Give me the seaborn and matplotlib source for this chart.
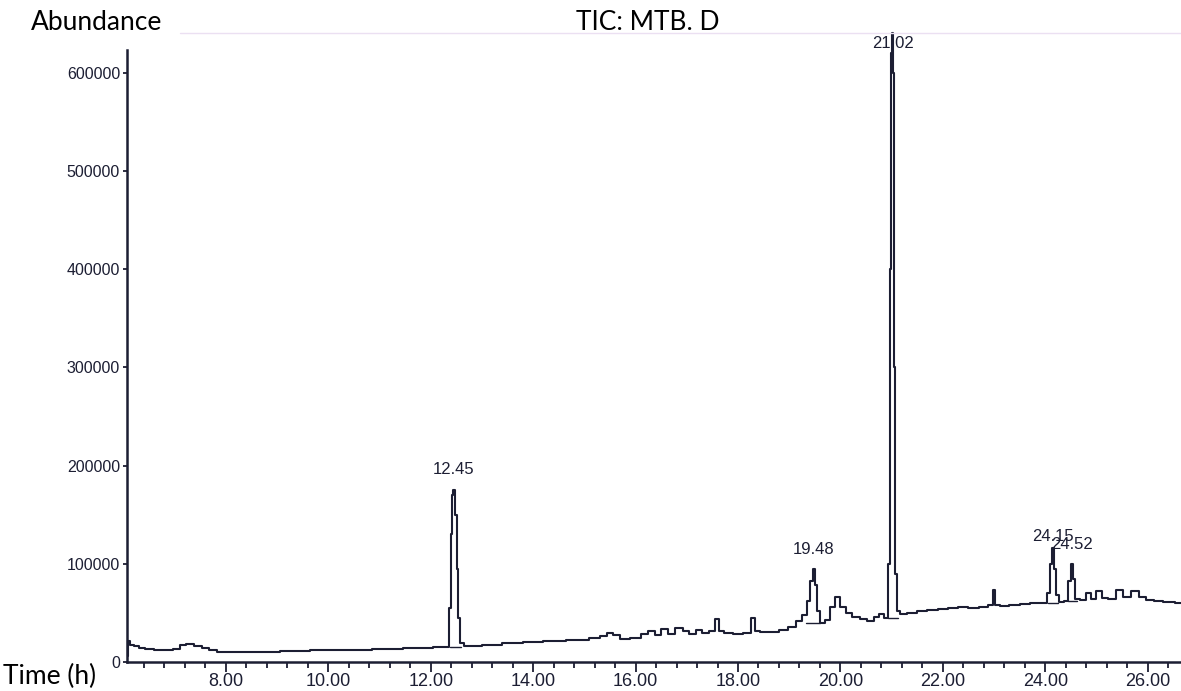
import matplotlib
matplotlib.use("Agg")
import matplotlib.pyplot as plt
from matplotlib.ticker import MultipleLocator, FixedLocator, FuncFormatter
from matplotlib.lines import Line2D
import seaborn as sns
import pandas as pd

# ---------------- data ----------------
time_min = [6.08, 6.10, 6.15, 6.25, 6.35, 6.50, 6.70, 6.90, 7.05, 7.15, 7.30, 7.45, 7.60, 7.75,
            7.90, 8.10, 8.30, 8.60, 8.90, 9.20, 9.50, 9.80, 10.10, 10.40, 10.70, 11.00, 11.30,
            11.60, 11.90, 12.20, 12.35, 12.38, 12.40, 12.43, 12.46, 12.49, 12.52, 12.56, 12.60,
            12.70, 12.90, 13.10, 13.30, 13.50, 13.70, 13.90, 14.10, 14.30, 14.50, 14.80, 15.00,
            15.20, 15.40, 15.50, 15.60, 15.80, 16.00, 16.20, 16.30, 16.45, 16.55, 16.70, 16.85,
            17.00, 17.10, 17.25, 17.35, 17.50, 17.60, 17.65, 17.80, 18.00, 18.20, 18.30, 18.35,
            18.50, 18.70, 18.90, 19.05, 19.20, 19.30, 19.38, 19.44, 19.48, 19.52, 19.57, 19.65,
            19.75, 19.85, 19.95, 20.05, 20.15, 20.30, 20.45, 20.60, 20.70, 20.80, 20.90, 20.95,
            20.98, 21.00, 21.02, 21.04, 21.06, 21.09, 21.12, 21.20, 21.40, 21.60, 21.80, 22.00,
            22.20, 22.40, 22.60, 22.80, 22.95, 23.00, 23.05, 23.20, 23.40, 23.60, 23.80, 24.00,
            24.08, 24.12, 24.15, 24.18, 24.22, 24.30, 24.42, 24.48, 24.52, 24.56, 24.62, 24.75,
            24.85, 24.95, 25.05, 25.15, 25.30, 25.45, 25.60, 25.75, 25.90, 26.05, 26.20, 26.40,
            26.65]
abundance = [6000, 21000, 17000, 16000, 14000, 13000, 12000, 12000, 13000, 17000, 18000, 16000,
             14000, 12000, 10000, 10000, 10000, 10000, 10500, 11000, 11000, 12000, 12000, 12000,
             12500, 13000, 13500, 14000, 14500, 15000, 15000, 55000, 130000, 170000, 175000,
             150000, 95000, 45000, 19000, 16000, 16000, 17000, 17000, 19000, 19000, 20000,
             20000, 21000, 21000, 22000, 22000, 24000, 26000, 30000, 27000, 23000, 24000, 28000,
             32000, 27000, 34000, 29000, 35000, 32000, 29000, 33000, 30000, 32000, 44000, 32000,
             30000, 29000, 30000, 45000, 32000, 31000, 31000, 33000, 36000, 42000, 48000, 62000,
             82000, 95000, 78000, 52000, 40000, 43000, 56000, 66000, 56000, 50000, 46000, 44000,
             42000, 46000, 49000, 45000, 100000, 400000, 620000, 640000, 600000, 300000, 90000,
             52000, 49000, 50000, 52000, 53000, 54000, 55000, 56000, 55000, 56000, 58000, 73000,
             58000, 57000, 58000, 59000, 60000, 60000, 70000, 100000, 116000, 95000, 68000, 61000,
             62000, 82000, 100000, 84000, 64000, 63000, 70000, 64000, 72000, 65000, 64000, 73000,
             66000, 72000, 66000, 63000, 62000, 61000, 60000]

peak_times = [12.45, 19.48, 21.02, 24.15, 24.52]
peak_labels = ["12.45", "19.48", "21.02", "24.15", "24.52"]
peak_label_y = [196000, 115000, 630000, 128000, 120000]
peak_base_start = [12.37, 19.33, 20.92, 24.05, 24.44]
peak_base_end = [12.60, 19.60, 21.13, 24.25, 24.62]
peak_base_level = [15000, 40000, 45000, 60000, 62000]

x_major = [8, 10, 12, 14, 16, 18, 20, 22, 24, 26]
y_major = [0, 100000, 200000, 300000, 400000, 500000, 600000]

# ---------------- figure ----------------
sns.set_style("ticks")
plt.rcParams["font.family"] = ["Liberation Sans", "DejaVu Sans"]
ink = "#1c1e33"

fig = plt.figure(figsize=(11.81, 6.91), dpi=100)
ax = fig.add_axes([127 / 1181, 29 / 691, 1054 / 1181, 612 / 691])

# faint scanner line along the top
fig.add_artist(Line2D([180 / 1181, 1.0], [1 - 33 / 691, 1 - 33 / 691],
                      color="#ebe0f2", linewidth=1.0, transform=fig.transFigure))

df = pd.DataFrame({"time": time_min, "abundance": abundance})
sns.lineplot(data=df, x="time", y="abundance", ax=ax, color=ink, linewidth=1.5,
             estimator=None, sort=False, drawstyle="steps-mid")
for ln in ax.get_lines():
    ln.set_clip_on(False)

for s, e, b in zip(peak_base_start, peak_base_end, peak_base_level):
    ax.plot([s, e], [b, b], color=ink, linewidth=1.0, clip_on=False)

for t, lab, ly in zip(peak_times, peak_labels, peak_label_y):
    ax.text(t, ly, lab, ha="center", va="center", fontsize=12, color=ink,
            clip_on=False)

ax.set_xlim(6.07, 26.65)
ax.set_ylim(0, 623000)
ax.xaxis.set_major_locator(FixedLocator(x_major))
ax.xaxis.set_minor_locator(MultipleLocator(0.4))
ax.xaxis.set_major_formatter(FuncFormatter(lambda v, p: f"{v:.2f}"))
ax.yaxis.set_major_locator(FixedLocator(y_major))
ax.yaxis.set_major_formatter(FuncFormatter(lambda v, p: f"{int(v)}"))

ax.set_xlabel("")
ax.set_ylabel("")
for side in ["top", "right"]:
    ax.spines[side].set_visible(False)
for side in ["left", "bottom"]:
    ax.spines[side].set_linewidth(1.8)
    ax.spines[side].set_color(ink)

ax.tick_params(axis="x", which="major", length=7, width=1.3, color=ink, pad=1,
               labelsize=13, labelcolor=ink)
ax.tick_params(axis="x", which="minor", length=4, width=1.3, color=ink)
ax.tick_params(axis="y", which="major", length=3, width=1.3, color=ink, pad=2,
               labelsize=11.5, labelcolor=ink)

over_font = ["Lato", "DejaVu Sans"]
fig.text(31 / 1181, 1 - 23 / 691, "Abundance", ha="left", va="center",
         fontsize=19, family=over_font, color="black")
fig.text(648 / 1181, 1 - 23 / 691, "TIC: MTB. D", ha="center", va="center",
         fontsize=19, family=over_font, color="black")
fig.text(3 / 1181, 1 - 676 / 691, "Time (h)", ha="left", va="center",
         fontsize=19, family=over_font, color="black")

fig.savefig("out.png", dpi=100, facecolor="white")
